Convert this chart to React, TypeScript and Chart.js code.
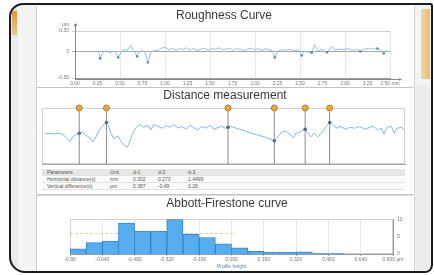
import React, { useEffect, useRef } from "react";
import { Chart, registerables } from "chart.js";
Chart.register(...registerables);

const FONT = '"Liberation Sans", Arial, sans-serif';

// ---------- Roughness curve ----------
const roughX = [0.24,0.27,0.28,0.31,0.35,0.39,0.43,0.46,0.48,0.51,0.54,0.58,0.62,0.65,0.69,0.72,0.75,0.78,0.81,0.84,0.88,0.92,0.96,1.00,1.04,1.08,1.12,1.16,1.20,1.24,1.28,1.32,1.36,1.40,1.44,1.48,1.52,1.56,1.60,1.64,1.68,1.72,1.76,1.80,1.84,1.88,1.92,1.96,2.00,2.04,2.08,2.12,2.16,2.19,2.22,2.25,2.29,2.34,2.39,2.44,2.48,2.52,2.55,2.59,2.63,2.66,2.70,2.75,2.80,2.86,2.89,2.93,2.98,3.03,3.08,3.13,3.17,3.21,3.26,3.31,3.36,3.40,3.43,3.46];
const roughY = [0.00,-0.05,-0.17,-0.02,0.02,-0.03,0.01,-0.04,-0.15,-0.03,0.05,0.03,0.15,0.02,-0.12,-0.01,0.03,-0.05,-0.27,-0.03,0.04,0.02,0.08,0.10,0.04,0.08,0.03,0.07,0.05,0.09,0.04,0.07,0.02,0.06,0.08,0.03,0.07,0.05,0.09,0.04,0.06,0.08,0.03,0.07,0.05,0.02,0.06,0.08,0.04,0.07,0.03,0.06,0.04,0.02,-0.15,0.00,0.04,0.03,0.05,0.02,0.04,-0.10,0.01,-0.02,-0.03,0.17,0.02,0.05,-0.02,0.12,0.03,0.06,0.04,0.07,0.03,0.05,0.00,0.05,0.08,0.06,0.07,0.02,-0.05,0.04];
const roughMarkIdx = [2, 8, 14, 18, 54, 61, 64, 68, 76, 80, 82];
const roughXTicks = [0,0.25,0.5,0.75,1,1.25,1.5,1.75,2,2.25,2.5,2.75,3,3.25,3.5];
const roughXLabels = ["0.00","0.25","0.50","0.75","1.00","1.25","1.50","1.75","2.00","2.25","2.50","2.75","3.00","3.25","3.50 mm"];
const roughYTicks = [-0.65, 0, 0.5];
const roughYLabels = ["-0.65", "0", "0.50"];

// ---------- Distance measurement ----------
const distX = [0.03,0.09,0.14,0.20,0.24,0.29,0.31,0.34,0.37,0.41,0.44,0.48,0.53,0.56,0.60,0.63,0.66,0.71,0.73,0.76,0.79,0.83,0.86,0.90,0.94,0.97,1.00,1.04,1.08,1.12,1.17,1.20,1.23,1.28,1.32,1.37,1.41,1.45,1.50,1.54,1.59,1.63,1.67,1.72,1.76,1.81,1.85,1.90,1.94,1.98,2.02,2.05,2.09,2.14,2.18,2.25,2.31,2.38,2.45,2.51,2.56,2.60,2.64,2.69,2.73,2.77,2.80,2.84,2.90,2.93,2.96,3.00,3.04,3.09,3.13,3.17,3.21,3.25,3.29,3.35,3.39,3.45,3.50,3.56,3.61,3.66,3.70,3.74,3.77,3.80,3.85,3.88,3.91,3.96,3.99];
const distY = [0.07,0.10,0.07,0.10,0.03,-0.14,-0.21,-0.03,0.03,0.10,0.14,0.03,-0.07,-0.21,0.00,0.21,0.34,0.48,0.38,0.10,-0.10,0.00,-0.14,-0.31,-0.41,-0.17,0.10,0.31,0.41,0.31,0.38,0.21,0.41,0.34,0.28,0.38,0.31,0.41,0.28,0.34,0.24,0.38,0.31,0.21,0.34,0.28,0.38,0.24,0.31,0.34,0.28,0.31,0.34,0.28,0.24,0.17,0.10,0.03,-0.03,-0.10,-0.17,-0.03,0.14,0.17,0.07,-0.07,0.10,0.14,0.24,0.10,-0.03,0.10,-0.03,0.14,0.34,0.48,0.38,0.28,0.34,0.24,0.31,0.28,0.34,0.24,0.31,0.34,0.21,0.28,0.07,0.31,0.34,0.10,0.28,0.31,0.24];
const cursorX = [0.41, 0.71, 2.05, 2.56, 2.90, 3.17];

const tableHeader = ["Parameters", "Unit", "d-1", "d-2", "d-3"];
const tableHoriz = ["Horizontal distance(s)", "mm", "0.302", "0.273", "1.4499"];
const tableVert = ["Vertical difference(s)", "µm", "0.387", "-0.49", "0.28"];

// ---------- Abbott-Firestone ----------
const histBins = [-0.76,-0.68,-0.60,-0.52,-0.44,-0.36,-0.28,-0.20,-0.12,-0.04,0.04,0.12,0.20,0.28,0.36,0.44,0.52,0.60,0.68,0.76];
const histCounts = [1.5,3.3,3.8,9.0,6.7,6.7,10.0,5.7,4.8,3.0,1.8,0.8,0.5,0.5,0.6,0.1,0.1,0,0,0];
const histTicks = [-0.8,-0.64,-0.48,-0.32,-0.16,0,0.16,0.32,0.48,0.64,0.8];
const histLabels = ["-0.80","-0.640","-0.480","-0.320","-0.160","0.000","0.160","0.320","0.480","0.640","0.800 µm"];
const histRightTicks = [0, 2.5, 5, 7.5, 10];
const levelX = [-0.8, 0.02];
const levelY = [6, 6];

const framePlugin = (color: string) => ({
  id: "frame",
  beforeDatasetsDraw(chart: any) {
    const { ctx, chartArea } = chart;
    ctx.save();
    ctx.strokeStyle = color;
    ctx.lineWidth = 1;
    ctx.strokeRect(Math.round(chartArea.left) + 0.5, Math.round(chartArea.top) + 0.5, Math.round(chartArea.width) - 1, Math.round(chartArea.height) - 1);
    ctx.restore();
  },
});

const arrowPlugin = {
  id: "arrows",
  afterDraw(chart: any) {
    const { ctx, chartArea } = chart;
    const l = Math.round(chartArea.left) + 0.5;
    const b = Math.round(chartArea.bottom) + 1.5;
    ctx.save();
    ctx.strokeStyle = "#888";
    ctx.fillStyle = "#888";
    ctx.lineWidth = 1;
    ctx.beginPath();
    ctx.moveTo(l, chartArea.top - 6);
    ctx.lineTo(l, b);
    ctx.lineTo(chartArea.right + 10, b);
    ctx.stroke();
    ctx.beginPath();
    ctx.arc(l, chartArea.top - 6, 1.5, 0, Math.PI * 2);
    ctx.fill();
    ctx.beginPath();
    ctx.moveTo(chartArea.right + 12, b);
    ctx.lineTo(chartArea.right + 9, b - 1.5);
    ctx.lineTo(chartArea.right + 9, b + 1.5);
    ctx.fill();
    ctx.restore();
  },
};

const titleOpts = (text: string, top: number, bottom: number) => ({
  display: true,
  text,
  color: "#3a3a3a",
  font: { family: FONT, size: 12, weight: "normal" as const, lineHeight: 1.2 },
  padding: { top, bottom },
});

const tickFont = { family: FONT, size: 5 };

export default function App() {
  const c1 = useRef<HTMLCanvasElement>(null);
  const c2 = useRef<HTMLCanvasElement>(null);
  const c3 = useRef<HTMLCanvasElement>(null);

  useEffect(() => {
    const charts: Chart[] = [];

    charts.push(
      new Chart(c1.current as HTMLCanvasElement, {
        type: "line",
        data: {
          datasets: [
            {
              data: roughX.map((x, i) => ({ x, y: roughY[i] })),
              borderColor: "#8fc3ee",
              borderWidth: 1,
              pointRadius: (ctx: any) => (roughMarkIdx.includes(ctx.dataIndex) ? 1.3 : 0),
              pointBackgroundColor: "#5a88c0",
              pointBorderWidth: 0,
              tension: 0,
            } as any,
          ],
        },
        options: {
          animation: false,
          responsive: false,
          devicePixelRatio: 1,
          layout: { padding: { left: 21, right: 22, top: 0, bottom: 0 } },
          plugins: {
            legend: { display: false },
            tooltip: { enabled: false },
            title: titleOpts("Roughness Curve", 0, 8.6),
          },
          scales: {
            x: {
              type: "linear",
              min: 0,
              max: 3.5,
              afterBuildTicks: (s: any) => {
                s.ticks = roughXTicks.map((v) => ({ value: v }));
              },
              ticks: {
                font: tickFont,
                color: "#777",
                padding: 1,
                maxRotation: 0,
                autoSkip: false,
                callback: (_v: any, i: number) => roughXLabels[i],
              },
              grid: {
                color: (ctx: any) => (ctx.index % 2 === 0 ? "#e6e6e6" : "rgba(0,0,0,0)"),
                tickLength: 2,
                tickColor: "#999",
              },
              border: { color: "#999" },
              afterFit: (s: any) => {
                s.height = 9;
              },
            },
            y: {
              min: -0.65,
              max: 0.5,
              afterBuildTicks: (s: any) => {
                s.ticks = roughYTicks.map((v) => ({ value: v }));
              },
              ticks: {
                font: tickFont,
                color: "#777",
                padding: 3,
                callback: (_v: any, i: number) => roughYLabels[i],
              },
              grid: {
                color: (ctx: any) => (ctx.tick && ctx.tick.value === 0 ? "#a8a8a8" : "#cfcfcf"),
                tickLength: 3,
              },
              border: { color: "#999" },
              afterFit: (s: any) => {
                s.width = 17;
              },
            },
          },
        },
        plugins: [arrowPlugin],
      } as any)
    );

    const cursorLines: any[] = [];
    cursorX.forEach((x) => {
      cursorLines.push({ x, y: -1 }, { x, y: 1 }, { x, y: NaN });
    });

    charts.push(
      new Chart(c2.current as HTMLCanvasElement, {
        type: "line",
        data: {
          datasets: [
            {
              data: cursorX.map((x) => ({ x, y: distY[distX.indexOf(x)] })),
              showLine: false,
              pointRadius: 1.8,
              pointBackgroundColor: "#56698f",
              pointBorderWidth: 0,
              order: 0,
            },
            {
              data: distX.map((x, i) => ({ x, y: distY[i] })),
              borderColor: "#7fb8e6",
              borderWidth: 1,
              pointRadius: 0,
              tension: 0,
              order: 1,
            },
            {
              data: cursorLines,
              borderColor: "#8c8c8c",
              borderWidth: 1,
              spanGaps: false,
              pointRadius: (ctx: any) => (ctx.raw && ctx.raw.y === 1 ? 3 : 0),
              pointBackgroundColor: "#e9a63d",
              pointBorderColor: "#b98226",
              pointBorderWidth: 1,
              clip: false,
              order: 2,
            },
          ] as any,
        },
        options: {
          animation: false,
          responsive: false,
          devicePixelRatio: 1,
          layout: { padding: { left: 0, right: 4, top: 0, bottom: 2 } },
          plugins: {
            legend: { display: false },
            tooltip: { enabled: false },
            title: titleOpts("Distance measurement", 0, 5.6),
          },
          scales: {
            x: {
              type: "linear",
              min: 0,
              max: 4,
              ticks: { display: false },
              grid: { display: false },
              border: { color: "#aaa" },
              afterFit: (s: any) => {
                s.height = 0;
              },
            },
            y: {
              min: -1,
              max: 1,
              ticks: { display: false },
              grid: { display: false },
              border: { color: "#999" },
              afterFit: (s: any) => {
                s.width = 5;
              },
            },
            yr: {
              position: "right",
              min: -1,
              max: 1,
              ticks: { display: false },
              grid: { display: false },
              border: { display: false },
              afterFit: (s: any) => {
                s.width = 8;
              },
            },
          },
        },
        plugins: [framePlugin("#d0d0d0")],
      } as any)
    );

    charts.push(
      new Chart(c3.current as HTMLCanvasElement, {
        type: "bar",
        data: {
          datasets: [
            {
              type: "bar",
              data: histBins.map((x, i) => ({ x, y: histCounts[i] })),
              backgroundColor: "#56adef",
              borderColor: "#3b84c8",
              borderWidth: 1,
              barPercentage: 1,
              categoryPercentage: 1,
              order: 1,
            },
            {
              type: "line",
              data: levelX.map((x, i) => ({ x, y: levelY[i] })),
              borderColor: "rgba(236,160,90,0.6)",
              borderDash: [3, 2],
              borderWidth: 1,
              pointRadius: 0,
              order: 2,
            },
          ] as any,
        },
        options: {
          animation: false,
          responsive: false,
          devicePixelRatio: 1,
          layout: { padding: { left: 12, right: 7, top: 0, bottom: 0 } },
          plugins: {
            legend: { display: false },
            tooltip: { enabled: false },
            title: titleOpts("Abbott-Firestone curve", 0, 8.6),
          },
          scales: {
            x: {
              type: "linear",
              min: -0.8,
              max: 0.8,
              offset: false,
              afterBuildTicks: (s: any) => {
                s.ticks = histTicks.map((v) => ({ value: v }));
              },
              ticks: {
                font: tickFont,
                color: "#777",
                padding: 1,
                maxRotation: 0,
                autoSkip: false,
                callback: (_v: any, i: number) => histLabels[i],
              },
              grid: { color: "#e6e6e6", offset: false, tickLength: 2, tickColor: "#aaa" },
              border: { color: "#999" },
              title: {
                display: true,
                text: "Profile height",
                color: "#5b82b5",
                font: { family: FONT, size: 5 },
                padding: 0,
              },
              afterFit: (s: any) => {
                s.height = 16;
              },
            },
            y: {
              min: 0,
              max: 10.2,
              ticks: { display: false },
              grid: { display: false },
              border: { color: "#999" },
              afterFit: (s: any) => {
                s.width = 21;
              },
            },
            y2: {
              position: "right",
              min: 0,
              max: 10.2,
              afterBuildTicks: (s: any) => {
                s.ticks = histRightTicks.map((v) => ({ value: v }));
              },
              ticks: { font: tickFont, color: "#777", padding: 2 },
              grid: { display: false, tickLength: 2 },
              border: { color: "#999" },
              afterFit: (s: any) => {
                s.width = 12;
              },
            },
          },
        },
        plugins: [framePlugin("#d0d0d0")],
      } as any)
    );

    return () => charts.forEach((c) => c.destroy());
  }, []);

  const colLeft = [5, 68, 91, 116, 146];
  const row = (cells: string[], top: number, bg: string) => (
    <div style={{ position: "absolute", left: 0, top, width: 363, height: 6, background: bg, borderBottom: "1px solid #e2e2e2" }}>
      {cells.map((c, i) => (
        <span key={i} style={{ position: "absolute", left: colLeft[i], top: 0, lineHeight: "6px", fontSize: 5, color: "#555", whiteSpace: "nowrap" }}>
          {c}
        </span>
      ))}
    </div>
  );

  return (
    <div style={{ position: "fixed", left: 0, top: 0, width: 434, height: 275, background: "#fff", overflow: "hidden", fontFamily: FONT }}>
      {/* device frame */}
      <div style={{ position: "absolute", left: 9, top: 3, width: 424, height: 270, boxSizing: "border-box", border: "2px solid #1b1b1b", borderRadius: "14px 3px 8px 16px", background: "#f4f4f4", overflow: "hidden" }}>
        <div style={{ position: "absolute", left: 1, top: 6, width: 5, height: 24, background: "linear-gradient(#e79e36, #f3d29c)" }} />
        <div style={{ position: "absolute", left: 0, top: 0, width: 7, height: 270, background: "rgba(0,0,0,0.04)" }} />
        <div style={{ position: "absolute", left: 410, top: 4, width: 9, height: 70, background: "linear-gradient(90deg, #f2d6a6, #ecbd78)" }} />
        <div style={{ position: "absolute", left: 403, top: 80, width: 16, height: 190, background: "#ececec" }} />
      </div>
      {/* content panel */}
      <div style={{ position: "absolute", left: 36, top: 6, width: 377, height: 265, background: "#fff", borderLeft: "1px solid #cdcdcd", borderRight: "1px solid #d5d5d5" }} />
      <div style={{ position: "absolute", left: 37, top: 87, width: 376, height: 1, background: "#c4c4c4" }} />
      <div style={{ position: "absolute", left: 37, top: 194, width: 376, height: 2, borderTop: "1px solid #c4c4c4", borderBottom: "1px solid #e0e0e0", boxSizing: "border-box" }} />

      <canvas ref={c1} width={375} height={79} style={{ position: "absolute", left: 37, top: 8, width: 375, height: 79 }} />
      <div style={{ position: "absolute", left: 62, top: 22, fontSize: 5, color: "#777", lineHeight: "5px" }}>µm</div>

      <canvas ref={c2} width={380} height={80} style={{ position: "absolute", left: 37, top: 88, width: 380, height: 80 }} />
      <div style={{ position: "absolute", left: 42, top: 169, width: 363, height: 20 }}>
        {row(tableHeader, 0, "#e6e6e6")}
        {row(tableHoriz, 7, "#fafafa")}
        {row(tableVert, 14, "#fafafa")}
      </div>

      <canvas ref={c3} width={375} height={74} style={{ position: "absolute", left: 37, top: 196, width: 375, height: 74 }} />
    </div>
  );
}
